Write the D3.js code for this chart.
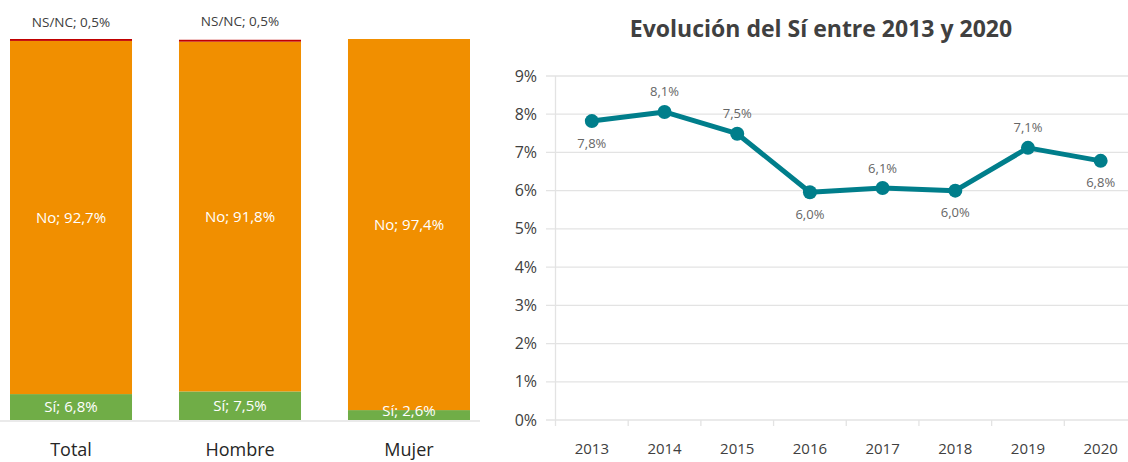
<!DOCTYPE html>
<html>
<head>
<meta charset="utf-8">
<script src="https://cdn.jsdelivr.net/npm/d3@7"></script>
<style>
  body { margin: 0; background: #fff; }
  svg { display: block; font-family: "Open Sans", sans-serif; }
</style>
</head>
<body>
<svg id="chart" width="1128" height="462"></svg>
<script>
// left: stacked bars
var groups = ["Total", "Hombre", "Mujer"];
var siValues = [6.8, 7.5, 2.6];
var noValues = [92.7, 91.8, 97.4];
var nsValues = [0.5, 0.5, 0];

// right: yearly line
var years = ["2013", "2014", "2015", "2016", "2017", "2018", "2019", "2020"];
var yearValues = [7.82, 8.06, 7.49, 5.96, 6.07, 6.0, 7.12, 6.78];
var labelAbove = [false, true, true, false, true, false, true, false];
var yTicks = [0, 1, 2, 3, 4, 5, 6, 7, 8, 9];

var svg = d3.select("#chart");
var fmt = function (v) { return d3.format(".1f")(v).replace(".", ",") + "%"; };

// ---- stacked bars ----
var xb = d3.scaleBand().domain(groups).range([10, 470]).paddingInner(0.278).paddingOuter(0);
var yb = d3.scaleLinear().domain([0, 100]).range([420, 39]);

svg.append("line")
  .attr("x1", 0).attr("x2", 480).attr("y1", 421).attr("y2", 421)
  .attr("stroke", "#e3e3e3").attr("stroke-width", 1.5);

var rows = groups.map(function (g, i) {
  return { g: g, si: siValues[i], no: noValues[i], ns: nsValues[i] };
});
var stack = d3.stack().keys(["si", "no", "ns"])(rows);
var colors = { si: "#70ad47", no: "#f18f00", ns: "#c00000" };

stack.forEach(function (layer) {
  svg.append("g").selectAll("rect")
    .data(layer)
    .join("rect")
    .attr("x", function (d) { return xb(d.data.g); })
    .attr("width", xb.bandwidth())
    .attr("y", function (d) { return yb(d[1]); })
    .attr("height", function (d) { return yb(d[0]) - yb(d[1]); })
    .attr("fill", colors[layer.key]);
});

// labels in segments
var segNames = { si: "Sí", no: "No" };
["si", "no"].forEach(function (k, li) {
  svg.append("g").selectAll("text")
    .data(stack[li])
    .join("text")
    .attr("x", function (d) { return xb(d.data.g) + xb.bandwidth() / 2; })
    .attr("y", function (d) {
      var m = (yb(d[0]) + yb(d[1])) / 2;
      return Math.min(m, 411);
    })
    .attr("dy", "0.35em")
    .attr("text-anchor", "middle")
    .attr("fill", "#fff")
    .attr("font-size", 15)
    .text(function (d) { return segNames[k] + "; " + fmt(d.data[k]); });
});

svg.append("g").selectAll("text")
  .data(rows.filter(function (d) { return d.ns > 0; }))
  .join("text")
  .attr("x", function (d) { return xb(d.g) + xb.bandwidth() / 2; })
  .attr("y", function (d, i) { return i === 0 ? 27 : 26; })
  .attr("text-anchor", "middle")
  .attr("fill", "#404040")
  .attr("font-size", 13.5)
  .text(function (d) { return "NS/NC; " + fmt(d.ns); });

svg.append("g").selectAll("text")
  .data(groups)
  .join("text")
  .attr("x", function (d) { return xb(d) + xb.bandwidth() / 2; })
  .attr("y", 456)
  .attr("text-anchor", "middle")
  .attr("fill", "#262626")
  .attr("font-size", 18)
  .text(function (d) { return d; });

// ---- line chart ----
svg.append("text")
  .attr("x", 821).attr("y", 37)
  .attr("text-anchor", "middle")
  .attr("font-size", 23).attr("font-weight", "bold")
  .attr("fill", "#404040")
  .text("Evolución del Sí entre 2013 y 2020");

var x = d3.scaleBand().domain(years).range([555.5, 1137]);
var y = d3.scaleLinear().domain([0, 9]).range([420, 76]);

svg.append("g").selectAll("line")
  .data(yTicks)
  .join("line")
  .attr("x1", 546).attr("x2", 1128)
  .attr("y1", function (d) { return y(d); })
  .attr("y2", function (d) { return y(d); })
  .attr("stroke", "#e3e3e3").attr("stroke-width", 1.3);

svg.append("line")
  .attr("x1", 555.5).attr("x2", 555.5).attr("y1", 76).attr("y2", 426)
  .attr("stroke", "#e3e3e3").attr("stroke-width", 1.3);

svg.append("g").selectAll("line")
  .data(years.slice(1))
  .join("line")
  .attr("x1", function (d) { return x(d); })
  .attr("x2", function (d) { return x(d); })
  .attr("y1", 420).attr("y2", 426)
  .attr("stroke", "#e3e3e3").attr("stroke-width", 1.3);

svg.append("g").selectAll("text")
  .data(yTicks)
  .join("text")
  .attr("x", 537)
  .attr("y", function (d) { return y(d); })
  .attr("dy", "0.35em")
  .attr("text-anchor", "end")
  .attr("fill", "#404040")
  .attr("font-size", 16)
  .text(function (d) { return d + "%"; });

svg.append("g").selectAll("text")
  .data(years)
  .join("text")
  .attr("x", function (d) { return x(d) + x.bandwidth() / 2; })
  .attr("y", 454)
  .attr("text-anchor", "middle")
  .attr("fill", "#404040")
  .attr("font-size", 15)
  .text(function (d) { return d; });

var pts = years.map(function (yr, i) { return { yr: yr, v: yearValues[i], up: labelAbove[i] }; });
var cx = function (d) { return x(d.yr) + x.bandwidth() / 2; };

svg.append("path")
  .datum(pts)
  .attr("fill", "none")
  .attr("stroke", "#007e8b")
  .attr("stroke-width", 5)
  .attr("stroke-linejoin", "round")
  .attr("d", d3.line().x(cx).y(function (d) { return y(d.v); }));

svg.append("g").selectAll("circle")
  .data(pts)
  .join("circle")
  .attr("cx", cx)
  .attr("cy", function (d) { return y(d.v); })
  .attr("r", 7)
  .attr("fill", "#007e8b");

svg.append("g").selectAll("text")
  .data(pts)
  .join("text")
  .attr("x", cx)
  .attr("y", function (d) { return y(d.v) + (d.up ? -20 : 22); })
  .attr("dy", "0.35em")
  .attr("text-anchor", "middle")
  .attr("fill", "#666")
  .attr("font-size", 13)
  .text(function (d) { return fmt(d.v); });
</script>
</body>
</html>
